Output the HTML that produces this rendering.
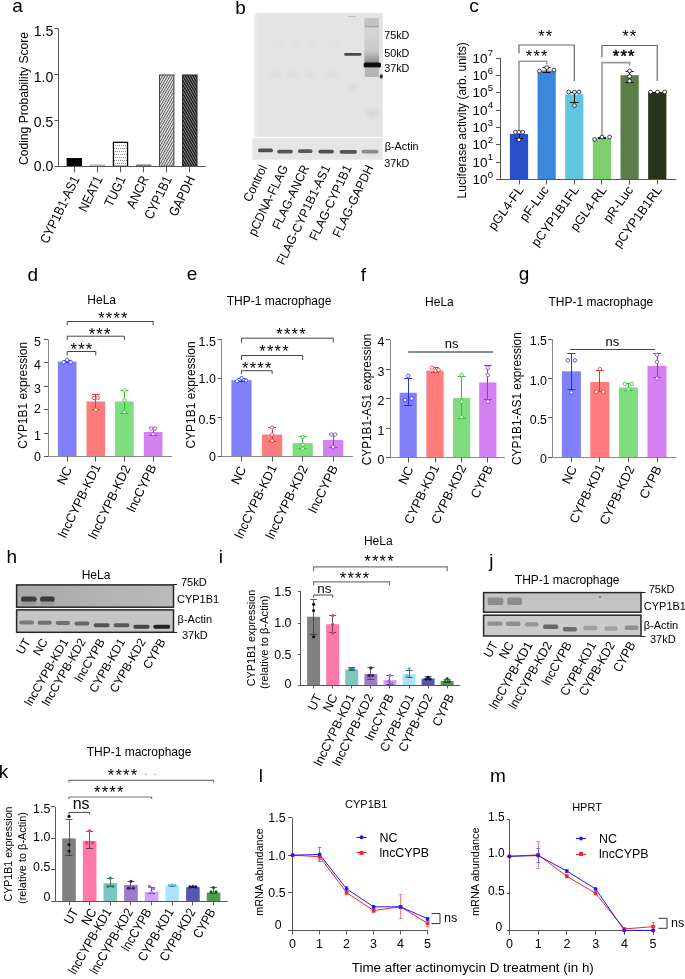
<!DOCTYPE html>
<html><head><meta charset="utf-8"><style>
html,body{margin:0;padding:0;background:#fff;width:685px;height:979px;overflow:hidden}
svg{display:block;font-family:"Liberation Sans", sans-serif;will-change:transform}
</style></head><body>
<svg width="685" height="979" viewBox="0 0 685 979" font-family='"Liberation Sans", sans-serif'>
<defs><pattern id="dots" width="4" height="6" patternUnits="userSpaceOnUse" x="115" y="145"><rect width="4" height="6" fill="#fff"/><rect x="0" y="0" width="1" height="1" fill="#8a8a8a"/><rect x="2" y="0" width="1" height="1" fill="#8a8a8a"/><rect x="1" y="3" width="1" height="1" fill="#8a8a8a"/><rect x="3" y="3" width="1" height="1" fill="#8a8a8a"/></pattern>
<pattern id="hatchL" width="2.2" height="2.2" patternUnits="userSpaceOnUse" patternTransform="rotate(30)"><rect width="2.2" height="2.2" fill="#eee"/><rect width="1" height="2.2" fill="#5a5a5a"/></pattern>
<pattern id="hatchD" width="2.2" height="2.2" patternUnits="userSpaceOnUse" patternTransform="rotate(-30)"><rect width="2.2" height="2.2" fill="#1a1a1a"/><rect width="0.9" height="2.2" fill="#8a8a8a"/></pattern>
<linearGradient id="blotBg" x1="0" x2="1" y1="0" y2="0"><stop offset="0" stop-color="#f2f2f2"/><stop offset="0.035" stop-color="#e5e5e5"/><stop offset="1" stop-color="#e3e3e3"/></linearGradient>
<linearGradient id="blotH" x1="0" x2="1" y1="0" y2="0"><stop offset="0" stop-color="#a9a9a9"/><stop offset="1" stop-color="#bababa"/></linearGradient>
<filter id="bl05" x="-20%" y="-50%" width="140%" height="200%"><feGaussianBlur stdDeviation="0.5"/></filter>
<filter id="bl07" x="-20%" y="-50%" width="140%" height="200%"><feGaussianBlur stdDeviation="0.7"/></filter>
<filter id="bl2" x="-50%" y="-50%" width="200%" height="200%"><feGaussianBlur stdDeviation="2"/></filter>
<linearGradient id="blotB" x1="0" x2="0" y1="0" y2="1"><stop offset="0" stop-color="#ececec"/><stop offset="1" stop-color="#ececec"/></linearGradient>
<linearGradient id="smear" x1="0" x2="0" y1="0" y2="1"><stop offset="0" stop-color="#d6d6d6"/><stop offset="0.65" stop-color="#cacaca"/><stop offset="1" stop-color="#8a8a8a"/></linearGradient></defs>
<text x="12.3" y="11.7" font-size="19">a</text>
<text x="235.2" y="13.8" font-size="19">b</text>
<text x="469.2" y="11.7" font-size="19">c</text>
<text x="27.6" y="280.5" font-size="19">d</text>
<text x="186.8" y="279.5" font-size="19">e</text>
<text x="360.8" y="281" font-size="19">f</text>
<text x="518.7" y="280" font-size="19">g</text>
<text x="6.4" y="562.6" font-size="19">h</text>
<text x="218.8" y="562.6" font-size="19">i</text>
<text x="489.3" y="566.5" font-size="19">j</text>
<text x="-1.2" y="778" font-size="19">k</text>
<text x="258.7" y="781.7" font-size="19">l</text>
<text x="489.9" y="782" font-size="19">m</text>
<rect x="66.6" y="158.04" width="15.4" height="8.26" fill="#000"/>
<rect x="89.7" y="164.46" width="15.4" height="1.84" fill="#b8b8b8"/>
<rect x="113.45" y="142.35" width="14.1" height="23.95" fill="url(#dots)" stroke="#000" stroke-width="1.3"/>
<rect x="135.9" y="164.46" width="15.4" height="1.84" fill="#7a7a7a"/>
<rect x="159.5" y="75" width="14.4" height="91.3" fill="url(#hatchL)" stroke="#444" stroke-width="1"/>
<rect x="182.6" y="75" width="14.4" height="91.3" fill="url(#hatchD)" stroke="#222" stroke-width="1"/>
<line x1="58.5" y1="28.6" x2="58.5" y2="166.3" stroke="#555" stroke-width="1"/>
<line x1="54.5" y1="166.5" x2="58.5" y2="166.5" stroke="#555" stroke-width="1"/>
<text x="53.3" y="171" font-size="14" text-anchor="end">0.0</text>
<line x1="54.5" y1="120.5" x2="58.5" y2="120.5" stroke="#555" stroke-width="1"/>
<text x="53.3" y="127.2" font-size="14" text-anchor="end">0.5</text>
<line x1="54.5" y1="74.5" x2="58.5" y2="74.5" stroke="#555" stroke-width="1"/>
<text x="53.3" y="81.7" font-size="14" text-anchor="end">1.0</text>
<line x1="54.5" y1="28.5" x2="58.5" y2="28.5" stroke="#555" stroke-width="1"/>
<text x="53.3" y="36" font-size="14" text-anchor="end">1.5</text>
<line x1="58.5" y1="166.5" x2="205.6" y2="166.5" stroke="#555" stroke-width="1"/>
<line x1="74.5" y1="166.3" x2="74.5" y2="172.3" stroke="#555" stroke-width="1"/>
<line x1="97.5" y1="166.3" x2="97.5" y2="172.3" stroke="#555" stroke-width="1"/>
<line x1="120.5" y1="166.3" x2="120.5" y2="172.3" stroke="#555" stroke-width="1"/>
<line x1="143.5" y1="166.3" x2="143.5" y2="172.3" stroke="#555" stroke-width="1"/>
<line x1="166.5" y1="166.3" x2="166.5" y2="172.3" stroke="#555" stroke-width="1"/>
<line x1="189.5" y1="166.3" x2="189.5" y2="172.3" stroke="#555" stroke-width="1"/>
<text x="75.8" y="176.8" font-size="13.4" text-anchor="end" transform="rotate(-64 75.8 176.8)" textLength="73.07" lengthAdjust="spacingAndGlyphs" dominant-baseline="central">CYP1B1-AS1</text>
<text x="98.9" y="176.8" font-size="13.4" text-anchor="end" transform="rotate(-64 98.9 176.8)" textLength="37.98" lengthAdjust="spacingAndGlyphs" dominant-baseline="central">NEAT1</text>
<text x="122" y="176.8" font-size="13.4" text-anchor="end" transform="rotate(-64 122 176.8)" textLength="32.16" lengthAdjust="spacingAndGlyphs" dominant-baseline="central">TUG1</text>
<text x="145.1" y="176.8" font-size="13.4" text-anchor="end" transform="rotate(-64 145.1 176.8)" textLength="34.17" lengthAdjust="spacingAndGlyphs" dominant-baseline="central">ANCR</text>
<text x="168.2" y="176.8" font-size="13.4" text-anchor="end" transform="rotate(-64 168.2 176.8)" textLength="46.26" lengthAdjust="spacingAndGlyphs" dominant-baseline="central">CYP1B1</text>
<text x="191.3" y="176.8" font-size="13.4" text-anchor="end" transform="rotate(-64 191.3 176.8)" textLength="42.89" lengthAdjust="spacingAndGlyphs" dominant-baseline="central">GAPDH</text>
<text x="28.4" y="98.5" font-size="13" text-anchor="middle" transform="rotate(-90 28.4 98.5)" textLength="133" lengthAdjust="spacingAndGlyphs">Coding Probability Score</text>
<rect x="253.9" y="13" width="128.9" height="124" fill="url(#blotBg)"/>
<ellipse cx="278" cy="44.8" rx="7" ry="2.5" fill="#000" opacity="0.02" filter="url(#bl2)"/>
<ellipse cx="278" cy="29.5" rx="6" ry="2.5" fill="#000" opacity="0.012" filter="url(#bl2)"/>
<ellipse cx="295.5" cy="44.8" rx="7" ry="2.5" fill="#000" opacity="0.02" filter="url(#bl2)"/>
<ellipse cx="295.5" cy="29.5" rx="6" ry="2.5" fill="#000" opacity="0.012" filter="url(#bl2)"/>
<ellipse cx="312.5" cy="44.8" rx="7" ry="2.5" fill="#000" opacity="0.02" filter="url(#bl2)"/>
<ellipse cx="312.5" cy="29.5" rx="6" ry="2.5" fill="#000" opacity="0.012" filter="url(#bl2)"/>
<ellipse cx="334" cy="44.8" rx="7" ry="2.5" fill="#000" opacity="0.02" filter="url(#bl2)"/>
<ellipse cx="334" cy="29.5" rx="6" ry="2.5" fill="#000" opacity="0.012" filter="url(#bl2)"/>
<ellipse cx="275" cy="75" rx="7" ry="3.5" fill="#000" opacity="0.028" filter="url(#bl2)"/>
<ellipse cx="293.3" cy="75" rx="7" ry="3.5" fill="#000" opacity="0.028" filter="url(#bl2)"/>
<ellipse cx="310.7" cy="75" rx="7" ry="3.5" fill="#000" opacity="0.028" filter="url(#bl2)"/>
<ellipse cx="331" cy="75" rx="7" ry="3.5" fill="#000" opacity="0.028" filter="url(#bl2)"/>
<rect x="344.2" y="53" width="17.2" height="2.8" rx="1.4" fill="#4a4a4a" filter="url(#bl05)"/>
<rect x="348" y="16" width="8" height="1" fill="#bbb" filter="url(#bl05)"/>
<ellipse cx="353" cy="87" rx="6" ry="4" fill="#000" opacity="0.03" filter="url(#bl2)"/>
<g filter="url(#bl05)">
<rect x="364.4" y="18.2" width="14.6" height="7.3" fill="#c3c3c3"/>
<rect x="364.4" y="25.5" width="14.6" height="2.2" fill="#a9a9a9"/>
<rect x="364.4" y="27.7" width="14.6" height="35.3" fill="url(#smear)"/>
<rect x="363.6" y="62.6" width="17.4" height="5.2" fill="#0a0a0a" rx="2"/>
<rect x="364.8" y="67.5" width="14" height="9.5" fill="#b4b4b4"/>
<ellipse cx="381.3" cy="76.4" rx="1.6" ry="2.2" fill="#333"/>
</g>
<ellipse cx="372" cy="113" rx="6" ry="5" fill="#000" opacity="0.04" filter="url(#bl2)"/>
<rect x="252.2" y="138.2" width="130.6" height="21.6" fill="#e5e5e5"/>
<g filter="url(#bl07)">
<rect x="258" y="148.5" width="15" height="3.8" fill="#505050" rx="1.9"/>
<rect x="277.1" y="149.7" width="15.8" height="3.8" fill="#555" rx="1.9"/>
<rect x="298" y="149.3" width="14.5" height="3.8" fill="#5a5a5a" rx="1.9"/>
<rect x="318.4" y="149.7" width="15.6" height="3.8" fill="#505050" rx="1.9"/>
<rect x="339.6" y="149.9" width="17.4" height="3.8" fill="#555" rx="1.9"/>
<rect x="361.6" y="149.7" width="16.9" height="3.8" fill="#8a8a8a" rx="1.9"/>
</g>
<text x="384.2" y="38.6" font-size="10.8">75kD</text>
<text x="384.2" y="56.6" font-size="10.8">50kD</text>
<text x="384.2" y="71.9" font-size="10.8">37kD</text>
<text x="384.8" y="149.8" font-size="10.8">β-Actin</text>
<text x="384.2" y="166.6" font-size="10.8">37kD</text>
<text x="263.7" y="165.8" font-size="12.6" text-anchor="end" transform="rotate(-64.5 263.7 165.8)" textLength="38.99" lengthAdjust="spacingAndGlyphs" dominant-baseline="central">Control</text>
<text x="284.8" y="165.8" font-size="12.6" text-anchor="end" transform="rotate(-64.5 284.8 165.8)" textLength="76.62" lengthAdjust="spacingAndGlyphs" dominant-baseline="central">pCDNA-FLAG</text>
<text x="305.9" y="165.8" font-size="12.6" text-anchor="end" transform="rotate(-64.5 305.9 165.8)" textLength="69.9" lengthAdjust="spacingAndGlyphs" dominant-baseline="central">FLAG-ANCR</text>
<text x="327.1" y="165.8" font-size="12.6" text-anchor="end" transform="rotate(-64.5 327.1 165.8)" textLength="108.91" lengthAdjust="spacingAndGlyphs" dominant-baseline="central">FLAG-CYP1B1-AS1</text>
<text x="348.3" y="165.8" font-size="12.6" text-anchor="end" transform="rotate(-64.5 348.3 165.8)" textLength="82.01" lengthAdjust="spacingAndGlyphs" dominant-baseline="central">FLAG-CYP1B1</text>
<text x="370.1" y="165.8" font-size="12.6" text-anchor="end" transform="rotate(-64.5 370.1 165.8)" textLength="78.64" lengthAdjust="spacingAndGlyphs" dominant-baseline="central">FLAG-GAPDH</text>
<rect x="509.9" y="134" width="18.2" height="45.4" fill="#2a4fca"/>
<rect x="537.55" y="70.5" width="18.2" height="108.9" fill="#3b87da"/>
<rect x="565.2" y="94.4" width="18.2" height="85" fill="#60c5e0"/>
<rect x="592.85" y="138" width="18.2" height="41.4" fill="#7ecf6c"/>
<rect x="620.5" y="75.2" width="18.2" height="104.2" fill="#5b7d48"/>
<rect x="648.15" y="92.2" width="18.2" height="87.2" fill="#283419"/>
<polyline points="519,53.5 519,45 574.3,45 574.3,81" fill="none" stroke="#666" stroke-width="1.2"/>
<polyline points="519,131.2 519,61.2 546.65,61.2 546.65,64.2" fill="none" stroke="#999" stroke-width="1.6"/>
<polyline points="601.95,57 601.95,45.5 657.25,45.5 657.25,81" fill="none" stroke="#666" stroke-width="1.2"/>
<polyline points="601.95,136.1 601.95,62.6 629.6,62.6 629.6,65.6" fill="none" stroke="#999" stroke-width="1.6"/>
<text x="538.18" y="41.58" font-size="16.5" letter-spacing="1.2">**</text>
<text x="525.77" y="61.58" font-size="16.5" letter-spacing="1.2">***</text>
<text x="622.18" y="41.58" font-size="16.5" letter-spacing="1.2">**</text>
<text x="612.77" y="62.18" font-size="16.5" letter-spacing="1.2" stroke="#000" stroke-width="0.5">***</text>
<line x1="519.5" y1="132.2" x2="519.5" y2="138" stroke="#111" stroke-width="1"/>
<line x1="515" y1="132.5" x2="523" y2="132.5" stroke="#111" stroke-width="1"/>
<line x1="515" y1="138.5" x2="523" y2="138.5" stroke="#111" stroke-width="1"/>
<line x1="546.5" y1="67.8" x2="546.5" y2="72.5" stroke="#111" stroke-width="1"/>
<line x1="542.65" y1="67.5" x2="550.65" y2="67.5" stroke="#111" stroke-width="1"/>
<line x1="542.65" y1="72.5" x2="550.65" y2="72.5" stroke="#111" stroke-width="1"/>
<line x1="574.5" y1="92" x2="574.5" y2="102.6" stroke="#111" stroke-width="1"/>
<line x1="569.8" y1="92.5" x2="578.8" y2="92.5" stroke="#111" stroke-width="1"/>
<line x1="569.8" y1="102.5" x2="578.8" y2="102.5" stroke="#111" stroke-width="1"/>
<line x1="601.5" y1="137" x2="601.5" y2="138.6" stroke="#111" stroke-width="1"/>
<line x1="597.95" y1="137.5" x2="605.95" y2="137.5" stroke="#111" stroke-width="1"/>
<line x1="597.95" y1="138.5" x2="605.95" y2="138.5" stroke="#111" stroke-width="1"/>
<line x1="629.5" y1="71" x2="629.5" y2="82" stroke="#111" stroke-width="1"/>
<line x1="625.6" y1="71.5" x2="633.6" y2="71.5" stroke="#111" stroke-width="1"/>
<line x1="625.6" y1="82.5" x2="633.6" y2="82.5" stroke="#111" stroke-width="1"/>
<line x1="657.5" y1="92" x2="657.5" y2="92.5" stroke="#111" stroke-width="1"/>
<line x1="653.25" y1="92.5" x2="661.25" y2="92.5" stroke="#111" stroke-width="1"/>
<line x1="653.25" y1="92.5" x2="661.25" y2="92.5" stroke="#111" stroke-width="1"/>
<circle cx="515.4" cy="132.2" r="1.9" fill="#fff" stroke="#111" stroke-width="0.8"/>
<circle cx="519" cy="132.2" r="1.9" fill="#fff" stroke="#111" stroke-width="0.8"/>
<circle cx="522.8" cy="132.2" r="1.9" fill="#fff" stroke="#111" stroke-width="0.8"/>
<circle cx="519" cy="139.8" r="1.9" fill="#fff" stroke="#111" stroke-width="0.8"/>
<circle cx="539.4" cy="71" r="1.9" fill="#fff" stroke="#111" stroke-width="0.8"/>
<circle cx="546.8" cy="67.6" r="1.9" fill="#fff" stroke="#111" stroke-width="0.8"/>
<circle cx="554" cy="70" r="1.9" fill="#fff" stroke="#111" stroke-width="0.8"/>
<circle cx="568.7" cy="92" r="1.9" fill="#fff" stroke="#111" stroke-width="0.8"/>
<circle cx="574.4" cy="92" r="1.9" fill="#fff" stroke="#111" stroke-width="0.8"/>
<circle cx="579" cy="92" r="1.9" fill="#fff" stroke="#111" stroke-width="0.8"/>
<circle cx="574.4" cy="105.6" r="1.9" fill="#fff" stroke="#111" stroke-width="0.8"/>
<circle cx="594.6" cy="139.4" r="1.9" fill="#fff" stroke="#111" stroke-width="0.8"/>
<circle cx="602" cy="137" r="1.9" fill="#fff" stroke="#111" stroke-width="0.8"/>
<circle cx="609.6" cy="137" r="1.9" fill="#fff" stroke="#111" stroke-width="0.8"/>
<circle cx="629.6" cy="71" r="1.9" fill="#fff" stroke="#111" stroke-width="0.8"/>
<circle cx="629.6" cy="76.4" r="1.9" fill="#fff" stroke="#111" stroke-width="0.8"/>
<circle cx="629.6" cy="81" r="1.9" fill="#fff" stroke="#111" stroke-width="0.8"/>
<circle cx="650.6" cy="92" r="1.9" fill="#fff" stroke="#111" stroke-width="0.8"/>
<circle cx="657.4" cy="92" r="1.9" fill="#fff" stroke="#111" stroke-width="0.8"/>
<circle cx="664.6" cy="92" r="1.9" fill="#fff" stroke="#111" stroke-width="0.8"/>
<line x1="500.5" y1="58" x2="500.5" y2="179.4" stroke="#555" stroke-width="1"/>
<line x1="496" y1="179.5" x2="500" y2="179.5" stroke="#555" stroke-width="1"/>
<text x="487.5" y="184" font-size="13.5" text-anchor="end">10</text>
<text x="487.8" y="177.8" font-size="9.5">0</text>
<line x1="496" y1="162.5" x2="500" y2="162.5" stroke="#555" stroke-width="1"/>
<text x="487.5" y="166.66" font-size="13.5" text-anchor="end">10</text>
<text x="487.8" y="160.46" font-size="9.5">1</text>
<line x1="496" y1="144.5" x2="500" y2="144.5" stroke="#555" stroke-width="1"/>
<text x="487.5" y="149.32" font-size="13.5" text-anchor="end">10</text>
<text x="487.8" y="143.12" font-size="9.5">2</text>
<line x1="496" y1="127.5" x2="500" y2="127.5" stroke="#555" stroke-width="1"/>
<text x="487.5" y="131.98" font-size="13.5" text-anchor="end">10</text>
<text x="487.8" y="125.78" font-size="9.5">3</text>
<line x1="496" y1="110.5" x2="500" y2="110.5" stroke="#555" stroke-width="1"/>
<text x="487.5" y="114.64" font-size="13.5" text-anchor="end">10</text>
<text x="487.8" y="108.44" font-size="9.5">4</text>
<line x1="496" y1="92.5" x2="500" y2="92.5" stroke="#555" stroke-width="1"/>
<text x="487.5" y="97.3" font-size="13.5" text-anchor="end">10</text>
<text x="487.8" y="91.1" font-size="9.5">5</text>
<line x1="496" y1="75.5" x2="500" y2="75.5" stroke="#555" stroke-width="1"/>
<text x="487.5" y="79.96" font-size="13.5" text-anchor="end">10</text>
<text x="487.8" y="73.76" font-size="9.5">6</text>
<line x1="496" y1="58.5" x2="500" y2="58.5" stroke="#555" stroke-width="1"/>
<text x="487.5" y="62.62" font-size="13.5" text-anchor="end">10</text>
<text x="487.8" y="56.42" font-size="9.5">7</text>
<line x1="500" y1="179.5" x2="676.4" y2="179.5" stroke="#555" stroke-width="1"/>
<line x1="519.5" y1="179.4" x2="519.5" y2="184.4" stroke="#555" stroke-width="1"/>
<line x1="546.5" y1="179.4" x2="546.5" y2="184.4" stroke="#555" stroke-width="1"/>
<line x1="574.5" y1="179.4" x2="574.5" y2="184.4" stroke="#555" stroke-width="1"/>
<line x1="601.5" y1="179.4" x2="601.5" y2="184.4" stroke="#555" stroke-width="1"/>
<line x1="629.5" y1="179.4" x2="629.5" y2="184.4" stroke="#555" stroke-width="1"/>
<line x1="657.5" y1="179.4" x2="657.5" y2="184.4" stroke="#555" stroke-width="1"/>
<text x="520.5" y="187.4" font-size="12.8" text-anchor="end" transform="rotate(-54 520.5 187.4)" dominant-baseline="central">pGL4-FL</text>
<text x="545.65" y="187.4" font-size="12.8" text-anchor="end" transform="rotate(-54 545.65 187.4)" dominant-baseline="central">pF-Luc</text>
<text x="575.8" y="187.4" font-size="12.8" text-anchor="end" transform="rotate(-54 575.8 187.4)" dominant-baseline="central">pCYP1B1FL</text>
<text x="603.45" y="187.4" font-size="12.8" text-anchor="end" transform="rotate(-54 603.45 187.4)" dominant-baseline="central">pGL4-RL</text>
<text x="630.1" y="187.4" font-size="12.8" text-anchor="end" transform="rotate(-54 630.1 187.4)" dominant-baseline="central">pR-Luc</text>
<text x="658.75" y="187.4" font-size="12.8" text-anchor="end" transform="rotate(-54 658.75 187.4)" dominant-baseline="central">pCYP1B1RL</text>
<text x="466.5" y="120.3" font-size="12.5" text-anchor="middle" transform="rotate(-90 466.5 120.3)" textLength="156.3" lengthAdjust="spacingAndGlyphs">Luciferase activity (arb. units)</text>
<rect x="57.9" y="361.63" width="18.6" height="94.97" fill="#8080f9"/>
<rect x="86.5" y="401.49" width="18.6" height="55.11" fill="#fe7c7c"/>
<rect x="115.1" y="401.49" width="18.6" height="55.11" fill="#7fdd80"/>
<rect x="143.8" y="431.98" width="18.6" height="24.62" fill="#d47ff2"/>
<line x1="67.5" y1="360.46" x2="67.5" y2="362.8" stroke="#2f2fe8" stroke-width="1"/>
<line x1="63.2" y1="360.5" x2="71.2" y2="360.5" stroke="#2f2fe8" stroke-width="1"/>
<line x1="63.2" y1="362.5" x2="71.2" y2="362.5" stroke="#2f2fe8" stroke-width="1"/>
<line x1="95.5" y1="394.46" x2="95.5" y2="409.7" stroke="#ec3030" stroke-width="1"/>
<line x1="91.8" y1="394.5" x2="99.8" y2="394.5" stroke="#ec3030" stroke-width="1"/>
<line x1="91.8" y1="409.5" x2="99.8" y2="409.5" stroke="#ec3030" stroke-width="1"/>
<line x1="124.5" y1="390.94" x2="124.5" y2="413.22" stroke="#2fbf2f" stroke-width="1"/>
<line x1="120.4" y1="390.5" x2="128.4" y2="390.5" stroke="#2fbf2f" stroke-width="1"/>
<line x1="120.4" y1="413.5" x2="128.4" y2="413.5" stroke="#2fbf2f" stroke-width="1"/>
<line x1="153.5" y1="427.99" x2="153.5" y2="435.03" stroke="#a030d8" stroke-width="1"/>
<line x1="149.1" y1="427.5" x2="157.1" y2="427.5" stroke="#a030d8" stroke-width="1"/>
<line x1="149.1" y1="435.5" x2="157.1" y2="435.5" stroke="#a030d8" stroke-width="1"/>
<circle cx="63.7" cy="362.33" r="1.75" fill="#fff" stroke="#2f2fe8" stroke-width="0.8"/>
<circle cx="67.2" cy="359.99" r="1.75" fill="#fff" stroke="#2f2fe8" stroke-width="0.8"/>
<circle cx="70.7" cy="362.33" r="1.75" fill="#fff" stroke="#2f2fe8" stroke-width="0.8"/>
<circle cx="94" cy="397.98" r="1.75" fill="#fff" stroke="#ec3030" stroke-width="0.8"/>
<circle cx="97.6" cy="397.98" r="1.75" fill="#fff" stroke="#ec3030" stroke-width="0.8"/>
<circle cx="95.8" cy="409.7" r="1.75" fill="#fff" stroke="#ec3030" stroke-width="0.8"/>
<circle cx="124.4" cy="390.47" r="1.75" fill="#fff" stroke="#2fbf2f" stroke-width="0.8"/>
<circle cx="124.4" cy="400.32" r="1.75" fill="#fff" stroke="#2fbf2f" stroke-width="0.8"/>
<circle cx="124.4" cy="412.05" r="1.75" fill="#fff" stroke="#2fbf2f" stroke-width="0.8"/>
<circle cx="151.3" cy="428.46" r="1.75" fill="#fff" stroke="#a030d8" stroke-width="0.8"/>
<circle cx="154.9" cy="428.46" r="1.75" fill="#fff" stroke="#a030d8" stroke-width="0.8"/>
<circle cx="153.1" cy="434.32" r="1.75" fill="#fff" stroke="#a030d8" stroke-width="0.8"/>
<line x1="48.5" y1="339.35" x2="48.5" y2="456.6" stroke="#8a8a8a" stroke-width="1"/>
<line x1="44" y1="456.5" x2="48" y2="456.5" stroke="#555" stroke-width="1"/>
<text x="40.9" y="461.45" font-size="12.4" text-anchor="end">0</text>
<line x1="44" y1="433.5" x2="48" y2="433.5" stroke="#555" stroke-width="1"/>
<text x="40.9" y="439.9" font-size="12.4" text-anchor="end">1</text>
<line x1="44" y1="409.5" x2="48" y2="409.5" stroke="#555" stroke-width="1"/>
<text x="40.9" y="413.35" font-size="12.4" text-anchor="end">2</text>
<line x1="44" y1="386.5" x2="48" y2="386.5" stroke="#555" stroke-width="1"/>
<text x="40.9" y="392.9" font-size="12.4" text-anchor="end">3</text>
<line x1="44" y1="362.5" x2="48" y2="362.5" stroke="#555" stroke-width="1"/>
<text x="40.9" y="368.55" font-size="12.4" text-anchor="end">4</text>
<line x1="44" y1="339.5" x2="48" y2="339.5" stroke="#555" stroke-width="1"/>
<text x="40.9" y="346.1" font-size="12.4" text-anchor="end">5</text>
<line x1="48" y1="456.5" x2="172.2" y2="456.5" stroke="#8a8a8a" stroke-width="1"/>
<line x1="67.5" y1="456.6" x2="67.5" y2="461.6" stroke="#555" stroke-width="1"/>
<line x1="95.5" y1="456.6" x2="95.5" y2="461.6" stroke="#555" stroke-width="1"/>
<line x1="124.5" y1="456.6" x2="124.5" y2="461.6" stroke="#555" stroke-width="1"/>
<line x1="153.5" y1="456.6" x2="153.5" y2="461.6" stroke="#555" stroke-width="1"/>
<text x="101.7" y="304.3" font-size="12" text-anchor="middle">HeLa</text>
<polyline points="67.2,325 67.2,321.5 153.1,321.5 153.1,325" fill="none" stroke="#444" stroke-width="1"/>
<polyline points="67.2,340 67.2,336.2 124.4,336.2 124.4,340" fill="none" stroke="#444" stroke-width="1"/>
<polyline points="67.2,355.3 67.2,351.5 95.8,351.5 95.8,355.3" fill="none" stroke="#444" stroke-width="1"/>
<text x="98.26" y="323.58" font-size="16.5" letter-spacing="1.2">****</text>
<text x="88.67" y="339.78" font-size="16.5" letter-spacing="1.2">***</text>
<text x="70.57" y="355.18" font-size="16.5" letter-spacing="1.2">***</text>
<text x="68.2" y="467.1" font-size="12.8" text-anchor="end" transform="rotate(-64 68.2 467.1)" dominant-baseline="central">NC</text>
<text x="96.8" y="464.6" font-size="12.8" text-anchor="end" transform="rotate(-64 96.8 464.6)" dominant-baseline="central">lncCYPB-KD1</text>
<text x="126.9" y="465.9" font-size="12.8" text-anchor="end" transform="rotate(-64 126.9 465.9)" dominant-baseline="central">lncCYPB-KD2</text>
<text x="152.6" y="465.1" font-size="12.8" text-anchor="end" transform="rotate(-64 152.6 465.1)" dominant-baseline="central">lncCYPB</text>
<text x="27.2" y="395.3" font-size="12.8" text-anchor="middle" transform="rotate(-90 27.2 395.3)" textLength="106.8" lengthAdjust="spacingAndGlyphs">CYP1B1 expression</text>
<rect x="231.4" y="380.16" width="20.2" height="76.34" fill="#8080f9"/>
<rect x="262" y="434.58" width="20.2" height="21.92" fill="#fe7c7c"/>
<rect x="292.6" y="443.19" width="20.2" height="13.31" fill="#7fdd80"/>
<rect x="323.1" y="440.06" width="20.2" height="16.44" fill="#d47ff2"/>
<line x1="241.5" y1="378.98" x2="241.5" y2="381.33" stroke="#2f2fe8" stroke-width="1"/>
<line x1="237.5" y1="378.5" x2="245.5" y2="378.5" stroke="#2f2fe8" stroke-width="1"/>
<line x1="237.5" y1="381.5" x2="245.5" y2="381.5" stroke="#2f2fe8" stroke-width="1"/>
<line x1="272.5" y1="427.53" x2="272.5" y2="441.62" stroke="#ec3030" stroke-width="1"/>
<line x1="268.1" y1="427.5" x2="276.1" y2="427.5" stroke="#ec3030" stroke-width="1"/>
<line x1="268.1" y1="441.5" x2="276.1" y2="441.5" stroke="#ec3030" stroke-width="1"/>
<line x1="302.5" y1="436.93" x2="302.5" y2="448.67" stroke="#2fbf2f" stroke-width="1"/>
<line x1="298.7" y1="436.5" x2="306.7" y2="436.5" stroke="#2fbf2f" stroke-width="1"/>
<line x1="298.7" y1="448.5" x2="306.7" y2="448.5" stroke="#2fbf2f" stroke-width="1"/>
<line x1="333.5" y1="433.79" x2="333.5" y2="447.1" stroke="#a030d8" stroke-width="1"/>
<line x1="329.2" y1="433.5" x2="337.2" y2="433.5" stroke="#a030d8" stroke-width="1"/>
<line x1="329.2" y1="447.5" x2="337.2" y2="447.5" stroke="#a030d8" stroke-width="1"/>
<circle cx="237" cy="381.33" r="1.75" fill="#fff" stroke="#2f2fe8" stroke-width="0.8"/>
<circle cx="241.5" cy="378.2" r="1.75" fill="#fff" stroke="#2f2fe8" stroke-width="0.8"/>
<circle cx="246" cy="380.55" r="1.75" fill="#fff" stroke="#2f2fe8" stroke-width="0.8"/>
<circle cx="272.1" cy="427.53" r="1.75" fill="#fff" stroke="#ec3030" stroke-width="0.8"/>
<circle cx="272.1" cy="434.58" r="1.75" fill="#fff" stroke="#ec3030" stroke-width="0.8"/>
<circle cx="272.1" cy="440.84" r="1.75" fill="#fff" stroke="#ec3030" stroke-width="0.8"/>
<circle cx="302.7" cy="436.93" r="1.75" fill="#fff" stroke="#2fbf2f" stroke-width="0.8"/>
<circle cx="302.7" cy="444.75" r="1.75" fill="#fff" stroke="#2fbf2f" stroke-width="0.8"/>
<circle cx="302.7" cy="448.67" r="1.75" fill="#fff" stroke="#2fbf2f" stroke-width="0.8"/>
<circle cx="331.4" cy="434.58" r="1.75" fill="#fff" stroke="#a030d8" stroke-width="0.8"/>
<circle cx="335" cy="434.58" r="1.75" fill="#fff" stroke="#a030d8" stroke-width="0.8"/>
<circle cx="333.2" cy="447.1" r="1.75" fill="#fff" stroke="#a030d8" stroke-width="0.8"/>
<line x1="221.5" y1="339.05" x2="221.5" y2="456.5" stroke="#8a8a8a" stroke-width="1"/>
<line x1="217.7" y1="456.5" x2="221.7" y2="456.5" stroke="#555" stroke-width="1"/>
<text x="215.8" y="460.75" font-size="12.4" text-anchor="end">0</text>
<line x1="217.7" y1="417.5" x2="221.7" y2="417.5" stroke="#555" stroke-width="1"/>
<text x="215.8" y="423.5" font-size="12.4" text-anchor="end">0.5</text>
<line x1="217.7" y1="378.5" x2="221.7" y2="378.5" stroke="#555" stroke-width="1"/>
<text x="215.8" y="382.65" font-size="12.4" text-anchor="end">1.0</text>
<line x1="217.7" y1="339.5" x2="221.7" y2="339.5" stroke="#555" stroke-width="1"/>
<text x="215.8" y="345.6" font-size="12.4" text-anchor="end">1.5</text>
<line x1="221.7" y1="456.5" x2="353" y2="456.5" stroke="#8a8a8a" stroke-width="1"/>
<line x1="241.5" y1="456.5" x2="241.5" y2="461.5" stroke="#555" stroke-width="1"/>
<line x1="272.5" y1="456.5" x2="272.5" y2="461.5" stroke="#555" stroke-width="1"/>
<line x1="302.5" y1="456.5" x2="302.5" y2="461.5" stroke="#555" stroke-width="1"/>
<line x1="333.5" y1="456.5" x2="333.5" y2="461.5" stroke="#555" stroke-width="1"/>
<text x="279" y="305.3" font-size="12" text-anchor="middle">THP-1 macrophage</text>
<polyline points="241.5,342.5 241.5,338.2 333.2,338.2 333.2,342.5" fill="none" stroke="#444" stroke-width="1"/>
<polyline points="241.5,360 241.5,355.5 302.7,355.5 302.7,360" fill="none" stroke="#444" stroke-width="1"/>
<polyline points="241.5,373.9 241.5,370.7 272.1,370.7 272.1,373.9" fill="none" stroke="#444" stroke-width="1"/>
<text x="276.36" y="340.28" font-size="16.5" letter-spacing="1.2">****</text>
<text x="259.36" y="356.78" font-size="16.5" letter-spacing="1.2">****</text>
<text x="242.06" y="374.08" font-size="16.5" letter-spacing="1.2">****</text>
<text x="242.5" y="467" font-size="12.8" text-anchor="end" transform="rotate(-64 242.5 467)" dominant-baseline="central">NC</text>
<text x="273.1" y="465.2" font-size="12.8" text-anchor="end" transform="rotate(-64 273.1 465.2)" dominant-baseline="central">lncCYPB-KD1</text>
<text x="304.2" y="465.9" font-size="12.8" text-anchor="end" transform="rotate(-64 304.2 465.9)" dominant-baseline="central">lncCYPB-KD2</text>
<text x="334.2" y="465.9" font-size="12.8" text-anchor="end" transform="rotate(-64 334.2 465.9)" dominant-baseline="central">lncCYPB</text>
<text x="195.1" y="395" font-size="12.8" text-anchor="middle" transform="rotate(-90 195.1 395)" textLength="107.2" lengthAdjust="spacingAndGlyphs">CYP1B1 expression</text>
<rect x="399.6" y="392.72" width="17.2" height="64.68" fill="#8080f9"/>
<rect x="426.4" y="370.67" width="17.2" height="86.73" fill="#fe7c7c"/>
<rect x="453" y="398.01" width="17.2" height="59.39" fill="#7fdd80"/>
<rect x="479.2" y="382.43" width="17.2" height="74.97" fill="#d47ff2"/>
<line x1="408.5" y1="378.02" x2="408.5" y2="405.36" stroke="#2f2fe8" stroke-width="1"/>
<line x1="404.2" y1="378.5" x2="412.2" y2="378.5" stroke="#2f2fe8" stroke-width="1"/>
<line x1="404.2" y1="405.5" x2="412.2" y2="405.5" stroke="#2f2fe8" stroke-width="1"/>
<line x1="435.5" y1="367.73" x2="435.5" y2="372.14" stroke="#ec3030" stroke-width="1"/>
<line x1="431" y1="367.5" x2="439" y2="367.5" stroke="#ec3030" stroke-width="1"/>
<line x1="431" y1="372.5" x2="439" y2="372.5" stroke="#ec3030" stroke-width="1"/>
<line x1="461.5" y1="376.84" x2="461.5" y2="418.3" stroke="#2fbf2f" stroke-width="1"/>
<line x1="457.6" y1="376.5" x2="465.6" y2="376.5" stroke="#2fbf2f" stroke-width="1"/>
<line x1="457.6" y1="418.5" x2="465.6" y2="418.5" stroke="#2fbf2f" stroke-width="1"/>
<line x1="487.5" y1="365.08" x2="487.5" y2="399.48" stroke="#a030d8" stroke-width="1"/>
<line x1="483.8" y1="365.5" x2="491.8" y2="365.5" stroke="#a030d8" stroke-width="1"/>
<line x1="483.8" y1="399.5" x2="491.8" y2="399.5" stroke="#a030d8" stroke-width="1"/>
<circle cx="408.2" cy="375.96" r="1.75" fill="#fff" stroke="#2f2fe8" stroke-width="0.8"/>
<circle cx="405.2" cy="400.07" r="1.75" fill="#fff" stroke="#2f2fe8" stroke-width="0.8"/>
<circle cx="411.7" cy="398.6" r="1.75" fill="#fff" stroke="#2f2fe8" stroke-width="0.8"/>
<circle cx="432" cy="367.73" r="1.75" fill="#fff" stroke="#ec3030" stroke-width="0.8"/>
<circle cx="435.5" cy="370.67" r="1.75" fill="#fff" stroke="#ec3030" stroke-width="0.8"/>
<circle cx="438.5" cy="370.08" r="1.75" fill="#fff" stroke="#ec3030" stroke-width="0.8"/>
<circle cx="461.6" cy="375.08" r="1.75" fill="#fff" stroke="#2fbf2f" stroke-width="0.8"/>
<circle cx="461.6" cy="401.54" r="1.75" fill="#fff" stroke="#2fbf2f" stroke-width="0.8"/>
<circle cx="461.6" cy="417.12" r="1.75" fill="#fff" stroke="#2fbf2f" stroke-width="0.8"/>
<circle cx="487.8" cy="367.73" r="1.75" fill="#fff" stroke="#a030d8" stroke-width="0.8"/>
<circle cx="487.8" cy="375.08" r="1.75" fill="#fff" stroke="#a030d8" stroke-width="0.8"/>
<circle cx="487.8" cy="401.54" r="1.75" fill="#fff" stroke="#a030d8" stroke-width="0.8"/>
<line x1="390.5" y1="339.8" x2="390.5" y2="457.4" stroke="#8a8a8a" stroke-width="1"/>
<line x1="386" y1="457.5" x2="390" y2="457.5" stroke="#555" stroke-width="1"/>
<text x="384.4" y="463.9" font-size="12.4" text-anchor="end">0</text>
<line x1="386" y1="428.5" x2="390" y2="428.5" stroke="#555" stroke-width="1"/>
<text x="384.4" y="434.5" font-size="12.4" text-anchor="end">1</text>
<line x1="386" y1="398.5" x2="390" y2="398.5" stroke="#555" stroke-width="1"/>
<text x="384.4" y="405.1" font-size="12.4" text-anchor="end">2</text>
<line x1="386" y1="369.5" x2="390" y2="369.5" stroke="#555" stroke-width="1"/>
<text x="384.4" y="375.7" font-size="12.4" text-anchor="end">3</text>
<line x1="386" y1="339.5" x2="390" y2="339.5" stroke="#555" stroke-width="1"/>
<text x="384.4" y="346.3" font-size="12.4" text-anchor="end">4</text>
<line x1="390" y1="457.5" x2="505" y2="457.5" stroke="#8a8a8a" stroke-width="1"/>
<line x1="408.5" y1="457.4" x2="408.5" y2="462.4" stroke="#555" stroke-width="1"/>
<line x1="435.5" y1="457.4" x2="435.5" y2="462.4" stroke="#555" stroke-width="1"/>
<line x1="461.5" y1="457.4" x2="461.5" y2="462.4" stroke="#555" stroke-width="1"/>
<line x1="487.5" y1="457.4" x2="487.5" y2="462.4" stroke="#555" stroke-width="1"/>
<text x="439.4" y="305.6" font-size="12" text-anchor="middle">HeLa</text>
<line x1="408.2" y1="352" x2="493" y2="352" stroke="#666" stroke-width="1.5"/>
<text x="451.7" y="347.8" font-size="13" text-anchor="middle">ns</text>
<text x="409.7" y="466.9" font-size="12.8" text-anchor="end" transform="rotate(-64 409.7 466.9)" dominant-baseline="central">NC</text>
<text x="435.5" y="465.4" font-size="12.8" text-anchor="end" transform="rotate(-64 435.5 465.4)" dominant-baseline="central">CYPB-KD1</text>
<text x="462.6" y="465.4" font-size="12.8" text-anchor="end" transform="rotate(-64 462.6 465.4)" dominant-baseline="central">CYPB-KD2</text>
<text x="489.3" y="465.9" font-size="12.8" text-anchor="end" transform="rotate(-64 489.3 465.9)" dominant-baseline="central">CYPB</text>
<text x="371.2" y="399.4" font-size="12.8" text-anchor="middle" transform="rotate(-90 371.2 399.4)" textLength="131.6" lengthAdjust="spacingAndGlyphs">CYP1B1-AS1 expression</text>
<rect x="561.9" y="371.33" width="19" height="85.67" fill="#8080f9"/>
<rect x="590.3" y="381.94" width="19" height="75.06" fill="#fe7c7c"/>
<rect x="618.9" y="387.44" width="19" height="69.56" fill="#7fdd80"/>
<rect x="647.5" y="365.82" width="19" height="91.18" fill="#d47ff2"/>
<line x1="571.5" y1="353.25" x2="571.5" y2="389.01" stroke="#2f2fe8" stroke-width="1"/>
<line x1="567.4" y1="353.5" x2="575.4" y2="353.5" stroke="#2f2fe8" stroke-width="1"/>
<line x1="567.4" y1="389.5" x2="575.4" y2="389.5" stroke="#2f2fe8" stroke-width="1"/>
<line x1="599.5" y1="370.54" x2="599.5" y2="391.76" stroke="#ec3030" stroke-width="1"/>
<line x1="595.8" y1="370.5" x2="603.8" y2="370.5" stroke="#ec3030" stroke-width="1"/>
<line x1="595.8" y1="391.5" x2="603.8" y2="391.5" stroke="#ec3030" stroke-width="1"/>
<line x1="628.5" y1="383.9" x2="628.5" y2="390.19" stroke="#2fbf2f" stroke-width="1"/>
<line x1="624.4" y1="383.5" x2="632.4" y2="383.5" stroke="#2fbf2f" stroke-width="1"/>
<line x1="624.4" y1="390.5" x2="632.4" y2="390.5" stroke="#2fbf2f" stroke-width="1"/>
<line x1="657.5" y1="353.25" x2="657.5" y2="377.61" stroke="#a030d8" stroke-width="1"/>
<line x1="653" y1="353.5" x2="661" y2="353.5" stroke="#a030d8" stroke-width="1"/>
<line x1="653" y1="377.5" x2="661" y2="377.5" stroke="#a030d8" stroke-width="1"/>
<circle cx="567.9" cy="360.32" r="1.75" fill="#fff" stroke="#2f2fe8" stroke-width="0.8"/>
<circle cx="574.9" cy="360.32" r="1.75" fill="#fff" stroke="#2f2fe8" stroke-width="0.8"/>
<circle cx="571.4" cy="392.55" r="1.75" fill="#fff" stroke="#2f2fe8" stroke-width="0.8"/>
<circle cx="599.8" cy="368.97" r="1.75" fill="#fff" stroke="#ec3030" stroke-width="0.8"/>
<circle cx="596.3" cy="391.76" r="1.75" fill="#fff" stroke="#ec3030" stroke-width="0.8"/>
<circle cx="603.3" cy="391.76" r="1.75" fill="#fff" stroke="#ec3030" stroke-width="0.8"/>
<circle cx="624.9" cy="383.9" r="1.75" fill="#fff" stroke="#2fbf2f" stroke-width="0.8"/>
<circle cx="631.9" cy="383.9" r="1.75" fill="#fff" stroke="#2fbf2f" stroke-width="0.8"/>
<circle cx="628.4" cy="389.4" r="1.75" fill="#fff" stroke="#2fbf2f" stroke-width="0.8"/>
<circle cx="657" cy="354.82" r="1.75" fill="#fff" stroke="#a030d8" stroke-width="0.8"/>
<circle cx="657" cy="361.89" r="1.75" fill="#fff" stroke="#a030d8" stroke-width="0.8"/>
<circle cx="657" cy="378.4" r="1.75" fill="#fff" stroke="#a030d8" stroke-width="0.8"/>
<line x1="552.5" y1="339.1" x2="552.5" y2="457" stroke="#8a8a8a" stroke-width="1"/>
<line x1="548" y1="457.5" x2="552" y2="457.5" stroke="#555" stroke-width="1"/>
<text x="547" y="463.3" font-size="12.4" text-anchor="end">0</text>
<line x1="548" y1="417.5" x2="552" y2="417.5" stroke="#555" stroke-width="1"/>
<text x="547" y="424" font-size="12.4" text-anchor="end">0.5</text>
<line x1="548" y1="378.5" x2="552" y2="378.5" stroke="#555" stroke-width="1"/>
<text x="547" y="384.7" font-size="12.4" text-anchor="end">1.0</text>
<line x1="548" y1="339.5" x2="552" y2="339.5" stroke="#555" stroke-width="1"/>
<text x="547" y="345.4" font-size="12.4" text-anchor="end">1.5</text>
<line x1="552" y1="457.5" x2="676.5" y2="457.5" stroke="#8a8a8a" stroke-width="1"/>
<line x1="571.5" y1="457" x2="571.5" y2="462" stroke="#555" stroke-width="1"/>
<line x1="599.5" y1="457" x2="599.5" y2="462" stroke="#555" stroke-width="1"/>
<line x1="628.5" y1="457" x2="628.5" y2="462" stroke="#555" stroke-width="1"/>
<line x1="657.5" y1="457" x2="657.5" y2="462" stroke="#555" stroke-width="1"/>
<text x="600.9" y="305.6" font-size="12" text-anchor="middle">THP-1 macrophage</text>
<line x1="570" y1="349.5" x2="655" y2="349.5" stroke="#444" stroke-width="1"/>
<text x="612.4" y="346.3" font-size="13" text-anchor="middle">ns</text>
<text x="573.2" y="466.4" font-size="12.8" text-anchor="end" transform="rotate(-64 573.2 466.4)" dominant-baseline="central">NC</text>
<text x="600.8" y="464.8" font-size="12.8" text-anchor="end" transform="rotate(-64 600.8 464.8)" dominant-baseline="central">CYPB-KD1</text>
<text x="630.9" y="466.3" font-size="12.8" text-anchor="end" transform="rotate(-64 630.9 466.3)" dominant-baseline="central">CYPB-KD2</text>
<text x="658" y="466.5" font-size="12.8" text-anchor="end" transform="rotate(-64 658 466.5)" dominant-baseline="central">CYPB</text>
<text x="520.6" y="398.6" font-size="12.8" text-anchor="middle" transform="rotate(-90 520.6 398.6)" textLength="132.9" lengthAdjust="spacingAndGlyphs">CYP1B1-AS1 expression</text>
<text x="96" y="578.7" font-size="12" text-anchor="middle">HeLa</text>
<rect x="16.6" y="584.9" width="156.9" height="22.3" fill="url(#blotH)" stroke="#262626" stroke-width="1.5"/>
<rect x="16.6" y="609.9" width="156.9" height="22.4" fill="#c5c5c5" stroke="#262626" stroke-width="1.5"/>
<g filter="url(#bl07)">
<rect x="21.1" y="596.4" width="15.4" height="5.6" fill="#3a3a3a" rx="2"/>
<rect x="21.6" y="601.5" width="14.4" height="4" fill="#9a9a9a"/>
<rect x="40.1" y="596.4" width="14.5" height="5.6" fill="#3a3a3a" rx="2"/>
<rect x="40.6" y="601.5" width="13.5" height="4" fill="#9a9a9a"/>
<rect x="19.3" y="620.6" width="14.7" height="4" fill="#7a7a7a" rx="1.8"/>
<rect x="37.7" y="620.7" width="14" height="4" fill="#707070" rx="1.8"/>
<rect x="55.7" y="620.9" width="14.3" height="4" fill="#707070" rx="1.8"/>
<rect x="74.5" y="621.6" width="14.8" height="4" fill="#666" rx="1.8"/>
<rect x="93.7" y="623.2" width="15.8" height="4" fill="#555" rx="1.8"/>
<rect x="113.6" y="623.2" width="15.8" height="4" fill="#5a5a5a" rx="1.8"/>
<rect x="133.4" y="624.8" width="16.2" height="4" fill="#444" rx="1.8"/>
<rect x="153.4" y="624.8" width="16.8" height="4" fill="#222" rx="1.8"/>
</g>
<line x1="173.5" y1="584.5" x2="177" y2="584.5" stroke="#222" stroke-width="1"/>
<line x1="173.5" y1="632.5" x2="177" y2="632.5" stroke="#222" stroke-width="1"/>
<text x="181" y="586.2" font-size="11">75kD</text>
<text x="177" y="602.8" font-size="11">CYP1B1</text>
<text x="177.6" y="623.4" font-size="11">β-Actin</text>
<text x="182" y="639.1" font-size="11">37kD</text>
<text x="27.4" y="639.5" font-size="12" text-anchor="end" transform="rotate(-60 27.4 639.5)" dominant-baseline="central">UT</text>
<text x="44.7" y="639.5" font-size="12" text-anchor="end" transform="rotate(-60 44.7 639.5)" dominant-baseline="central">NC</text>
<text x="65.3" y="639.5" font-size="12" text-anchor="end" transform="rotate(-60 65.3 639.5)" dominant-baseline="central">lncCYPB-KD1</text>
<text x="82.7" y="639.5" font-size="12" text-anchor="end" transform="rotate(-60 82.7 639.5)" dominant-baseline="central">lncCYPB-KD2</text>
<text x="101.7" y="639.5" font-size="12" text-anchor="end" transform="rotate(-60 101.7 639.5)" dominant-baseline="central">lncCYPB</text>
<text x="122.2" y="639.5" font-size="12" text-anchor="end" transform="rotate(-60 122.2 639.5)" dominant-baseline="central">CYPB-KD1</text>
<text x="142.7" y="639.5" font-size="12" text-anchor="end" transform="rotate(-60 142.7 639.5)" dominant-baseline="central">CYPB-KD2</text>
<text x="162.5" y="639.5" font-size="12" text-anchor="end" transform="rotate(-60 162.5 639.5)" dominant-baseline="central">CYPB</text>
<text x="567.2" y="584.2" font-size="12" text-anchor="middle">THP-1 macrophage</text>
<rect x="483.6" y="592.6" width="157.4" height="19.6" fill="#c3c3c3" stroke="#262626" stroke-width="1.5"/>
<rect x="483.6" y="615.2" width="157.4" height="20.8" fill="#cbcbcb" stroke="#262626" stroke-width="1.5"/>
<g filter="url(#bl07)">
<rect x="487.6" y="597.5" width="15.8" height="7.5" fill="#8c8c8c" rx="2"/>
<rect x="507.1" y="597.5" width="14.9" height="7.5" fill="#8c8c8c" rx="2"/>
<rect x="487.3" y="621.4" width="15.2" height="4.4" fill="#909090" rx="1.8"/>
<rect x="506" y="621.6" width="14.5" height="4.4" fill="#8e8e8e" rx="1.8"/>
<rect x="525" y="622.2" width="13.5" height="4.4" fill="#959595" rx="1.8"/>
<rect x="543.1" y="624.6" width="15.2" height="4.4" fill="#666" rx="1.8"/>
<rect x="562.8" y="627.1" width="14.1" height="4.4" fill="#6e6e6e" rx="1.8"/>
<rect x="583.4" y="625.8" width="14" height="4.4" fill="#a0a0a0" rx="1.8"/>
<rect x="604.4" y="626.3" width="13.2" height="4.4" fill="#a2a2a2" rx="1.8"/>
<rect x="624.6" y="625.6" width="14" height="4.4" fill="#8e8e8e" rx="1.8"/>
</g>
<circle cx="600" cy="597" r="0.8" fill="#333"/>
<line x1="641" y1="592.5" x2="645.6" y2="592.5" stroke="#222" stroke-width="1"/>
<line x1="641" y1="636.5" x2="645.6" y2="636.5" stroke="#222" stroke-width="1"/>
<text x="648.7" y="593.3" font-size="11">75kD</text>
<text x="643.8" y="609.8" font-size="11">CYP1B1</text>
<text x="643.8" y="629.1" font-size="11">β-Actin</text>
<text x="650" y="643.2" font-size="11">37kD</text>
<text x="495" y="642.7" font-size="12.6" text-anchor="end" transform="rotate(-60.5 495 642.7)" textLength="15.96" lengthAdjust="spacingAndGlyphs" dominant-baseline="central">UT</text>
<text x="510.8" y="642.7" font-size="12.6" text-anchor="end" transform="rotate(-60.5 510.8 642.7)" textLength="17.29" lengthAdjust="spacingAndGlyphs" dominant-baseline="central">NC</text>
<text x="529.6" y="642.7" font-size="12.6" text-anchor="end" transform="rotate(-60.5 529.6 642.7)" textLength="75.17" lengthAdjust="spacingAndGlyphs" dominant-baseline="central">lncCYPB-KD1</text>
<text x="549" y="642.7" font-size="12.6" text-anchor="end" transform="rotate(-60.5 549 642.7)" textLength="75.17" lengthAdjust="spacingAndGlyphs" dominant-baseline="central">lncCYPB-KD2</text>
<text x="568.8" y="642.7" font-size="12.6" text-anchor="end" transform="rotate(-60.5 568.8 642.7)" textLength="47.9" lengthAdjust="spacingAndGlyphs" dominant-baseline="central">lncCYPB</text>
<text x="593" y="642.7" font-size="12.6" text-anchor="end" transform="rotate(-60.5 593 642.7)" textLength="59.87" lengthAdjust="spacingAndGlyphs" dominant-baseline="central">CYPB-KD1</text>
<text x="611.8" y="642.7" font-size="12.6" text-anchor="end" transform="rotate(-60.5 611.8 642.7)" textLength="59.87" lengthAdjust="spacingAndGlyphs" dominant-baseline="central">CYPB-KD2</text>
<text x="632.5" y="642.7" font-size="12.6" text-anchor="end" transform="rotate(-60.5 632.5 642.7)" textLength="32.6" lengthAdjust="spacingAndGlyphs" dominant-baseline="central">CYPB</text>
<rect x="307.1" y="616.76" width="13" height="68.64" fill="#808080"/>
<rect x="326.18" y="624.25" width="13" height="61.15" fill="#ff78aa"/>
<rect x="345.26" y="669.49" width="13" height="15.91" fill="#7dc6c0"/>
<rect x="364.34" y="674.17" width="13" height="11.23" fill="#9c7cc6"/>
<rect x="383.42" y="680.1" width="13" height="5.3" fill="#cfa2ff"/>
<rect x="402.5" y="674.17" width="13" height="11.23" fill="#aee2f8"/>
<rect x="421.58" y="678.54" width="13" height="6.86" fill="#5558aa"/>
<rect x="440.66" y="681.03" width="13" height="4.37" fill="#4e9a4e"/>
<line x1="313.5" y1="599.91" x2="313.5" y2="634.86" stroke="#3a3a3a" stroke-width="0.8"/>
<line x1="310.1" y1="599.5" x2="317.1" y2="599.5" stroke="#3a3a3a" stroke-width="0.8"/>
<line x1="310.1" y1="634.5" x2="317.1" y2="634.5" stroke="#3a3a3a" stroke-width="0.8"/>
<line x1="332.5" y1="615.51" x2="332.5" y2="632.98" stroke="#3a3a3a" stroke-width="0.8"/>
<line x1="329.18" y1="615.5" x2="336.18" y2="615.5" stroke="#3a3a3a" stroke-width="0.8"/>
<line x1="329.18" y1="632.5" x2="336.18" y2="632.5" stroke="#3a3a3a" stroke-width="0.8"/>
<line x1="351.5" y1="667.93" x2="351.5" y2="670.42" stroke="#3a3a3a" stroke-width="0.8"/>
<line x1="348.26" y1="667.5" x2="355.26" y2="667.5" stroke="#3a3a3a" stroke-width="0.8"/>
<line x1="348.26" y1="670.5" x2="355.26" y2="670.5" stroke="#3a3a3a" stroke-width="0.8"/>
<line x1="370.5" y1="667.93" x2="370.5" y2="679.16" stroke="#3a3a3a" stroke-width="0.8"/>
<line x1="367.34" y1="667.5" x2="374.34" y2="667.5" stroke="#3a3a3a" stroke-width="0.8"/>
<line x1="367.34" y1="679.5" x2="374.34" y2="679.5" stroke="#3a3a3a" stroke-width="0.8"/>
<line x1="389.5" y1="675.42" x2="389.5" y2="684.15" stroke="#3a3a3a" stroke-width="0.8"/>
<line x1="386.42" y1="675.5" x2="393.42" y2="675.5" stroke="#3a3a3a" stroke-width="0.8"/>
<line x1="386.42" y1="684.5" x2="393.42" y2="684.5" stroke="#3a3a3a" stroke-width="0.8"/>
<line x1="409.5" y1="670.11" x2="409.5" y2="677.29" stroke="#3a3a3a" stroke-width="0.8"/>
<line x1="405.5" y1="670.5" x2="412.5" y2="670.5" stroke="#3a3a3a" stroke-width="0.8"/>
<line x1="405.5" y1="677.5" x2="412.5" y2="677.5" stroke="#3a3a3a" stroke-width="0.8"/>
<line x1="428.5" y1="676.66" x2="428.5" y2="679.78" stroke="#3a3a3a" stroke-width="0.8"/>
<line x1="424.58" y1="676.5" x2="431.58" y2="676.5" stroke="#3a3a3a" stroke-width="0.8"/>
<line x1="424.58" y1="679.5" x2="431.58" y2="679.5" stroke="#3a3a3a" stroke-width="0.8"/>
<line x1="447.5" y1="679.16" x2="447.5" y2="682.9" stroke="#3a3a3a" stroke-width="0.8"/>
<line x1="443.66" y1="679.5" x2="450.66" y2="679.5" stroke="#3a3a3a" stroke-width="0.8"/>
<line x1="443.66" y1="682.5" x2="450.66" y2="682.5" stroke="#3a3a3a" stroke-width="0.8"/>
<circle cx="313.6" cy="604.28" r="1.6" fill="#111"/>
<circle cx="313.6" cy="610.52" r="1.6" fill="#111"/>
<circle cx="313.6" cy="636.73" r="1.6" fill="#111"/>
<circle cx="332.68" cy="615.51" r="1.6" fill="#ff2a7a"/>
<circle cx="332.68" cy="624.25" r="1.6" fill="#ff2a7a"/>
<circle cx="332.68" cy="632.98" r="1.6" fill="#ff2a7a"/>
<circle cx="350.26" cy="668.55" r="1.6" fill="#10908a"/>
<circle cx="353.26" cy="669.18" r="1.6" fill="#10908a"/>
<circle cx="370.84" cy="667.93" r="1.6" fill="#4a1090"/>
<circle cx="368.84" cy="675.42" r="1.6" fill="#4a1090"/>
<circle cx="372.84" cy="675.42" r="1.6" fill="#4a1090"/>
<circle cx="389.92" cy="675.42" r="1.6" fill="#a070ff"/>
<circle cx="387.92" cy="681.66" r="1.6" fill="#a070ff"/>
<circle cx="391.92" cy="682.9" r="1.6" fill="#a070ff"/>
<circle cx="409" cy="668.55" r="1.6" fill="#50c0f0"/>
<circle cx="407" cy="676.04" r="1.6" fill="#50c0f0"/>
<circle cx="428.08" cy="677.29" r="1.6" fill="#10106a"/>
<circle cx="426.08" cy="679.16" r="1.6" fill="#10106a"/>
<circle cx="430.08" cy="679.16" r="1.6" fill="#10106a"/>
<circle cx="447.16" cy="678.54" r="1.6" fill="#106010"/>
<circle cx="445.16" cy="681.66" r="1.6" fill="#106010"/>
<circle cx="449.16" cy="681.66" r="1.6" fill="#106010"/>
<line x1="300.5" y1="591.8" x2="300.5" y2="685.4" stroke="#555" stroke-width="1"/>
<line x1="298" y1="685.5" x2="300.8" y2="685.5" stroke="#555" stroke-width="1"/>
<text x="291.5" y="687.7" font-size="12.4" text-anchor="end">0</text>
<line x1="298" y1="654.5" x2="300.8" y2="654.5" stroke="#555" stroke-width="1"/>
<text x="291.5" y="658.5" font-size="12.4" text-anchor="end">0.5</text>
<line x1="298" y1="623.5" x2="300.8" y2="623.5" stroke="#555" stroke-width="1"/>
<text x="291.5" y="627.3" font-size="12.4" text-anchor="end">1.0</text>
<line x1="298" y1="591.5" x2="300.8" y2="591.5" stroke="#555" stroke-width="1"/>
<text x="291.5" y="596.1" font-size="12.4" text-anchor="end">1.5</text>
<line x1="300.8" y1="685.5" x2="460.2" y2="685.5" stroke="#555" stroke-width="1"/>
<line x1="313.5" y1="685.4" x2="313.5" y2="688.4" stroke="#555" stroke-width="1"/>
<line x1="332.5" y1="685.4" x2="332.5" y2="688.4" stroke="#555" stroke-width="1"/>
<line x1="351.5" y1="685.4" x2="351.5" y2="688.4" stroke="#555" stroke-width="1"/>
<line x1="370.5" y1="685.4" x2="370.5" y2="688.4" stroke="#555" stroke-width="1"/>
<line x1="389.5" y1="685.4" x2="389.5" y2="688.4" stroke="#555" stroke-width="1"/>
<line x1="409.5" y1="685.4" x2="409.5" y2="688.4" stroke="#555" stroke-width="1"/>
<line x1="428.5" y1="685.4" x2="428.5" y2="688.4" stroke="#555" stroke-width="1"/>
<line x1="447.5" y1="685.4" x2="447.5" y2="688.4" stroke="#555" stroke-width="1"/>
<text x="378.3" y="544.5" font-size="12" text-anchor="middle">HeLa</text>
<polyline points="313.6,571.2 313.6,566.8 447.2,566.8 447.2,571.2" fill="none" stroke="#777" stroke-width="1.2"/>
<polyline points="313.6,585.6 313.6,581.8 389.5,581.8 389.5,585.6" fill="none" stroke="#777" stroke-width="1.2"/>
<polyline points="313.6,597.7 313.6,595 332.7,595 332.7,597.7" fill="none" stroke="#444" stroke-width="1"/>
<text x="364.36" y="567.08" font-size="16.5" letter-spacing="1.2">****</text>
<text x="339.86" y="583.58" font-size="16.5" letter-spacing="1.2">****</text>
<text x="324.5" y="593.3" font-size="13.5" text-anchor="middle">ns</text>
<text x="318.6" y="694.8" font-size="12.5" text-anchor="end" transform="rotate(-64 318.6 694.8)" dominant-baseline="central">UT</text>
<text x="334.48" y="694.8" font-size="12.5" text-anchor="end" transform="rotate(-64 334.48 694.8)" dominant-baseline="central">NC</text>
<text x="351.76" y="694.8" font-size="12.5" text-anchor="end" transform="rotate(-64 351.76 694.8)" dominant-baseline="central">lncCYPB-KD1</text>
<text x="370.24" y="694.8" font-size="12.5" text-anchor="end" transform="rotate(-64 370.24 694.8)" dominant-baseline="central">lncCYPB-KD2</text>
<text x="390.52" y="694.8" font-size="12.5" text-anchor="end" transform="rotate(-64 390.52 694.8)" dominant-baseline="central">lncCYPB</text>
<text x="410.9" y="694.8" font-size="12.5" text-anchor="end" transform="rotate(-64 410.9 694.8)" dominant-baseline="central">CYPB-KD1</text>
<text x="429.28" y="694.8" font-size="12.5" text-anchor="end" transform="rotate(-64 429.28 694.8)" dominant-baseline="central">CYPB-KD2</text>
<text x="450.86" y="694.8" font-size="12.5" text-anchor="end" transform="rotate(-64 450.86 694.8)" dominant-baseline="central">CYPB</text>
<text x="254.5" y="638" font-size="10.8" text-anchor="middle" transform="rotate(-90 254.5 638)" textLength="96.5" lengthAdjust="spacingAndGlyphs">CYP1B1 expression</text>
<text x="268.3" y="642.2" font-size="10.8" text-anchor="middle" transform="rotate(-90 268.3 642.2)" textLength="93.7" lengthAdjust="spacingAndGlyphs">(relative to β-Actin)</text>
<rect x="62.2" y="838.4" width="13.6" height="63" fill="#808080"/>
<rect x="82.85" y="840.92" width="13.6" height="60.48" fill="#ff78aa"/>
<rect x="103.5" y="883.13" width="13.6" height="18.27" fill="#7dc6c0"/>
<rect x="124.15" y="885.02" width="13.6" height="16.38" fill="#9c7cc6"/>
<rect x="144.8" y="891.95" width="13.6" height="9.45" fill="#cfa2ff"/>
<rect x="165.45" y="885.97" width="13.6" height="15.43" fill="#aee2f8"/>
<rect x="186.1" y="887.23" width="13.6" height="14.17" fill="#5558aa"/>
<rect x="206.75" y="892.58" width="13.6" height="8.82" fill="#4e9a4e"/>
<line x1="69.5" y1="819.5" x2="69.5" y2="855.41" stroke="#3a3a3a" stroke-width="0.8"/>
<line x1="65.5" y1="819.5" x2="72.5" y2="819.5" stroke="#3a3a3a" stroke-width="0.8"/>
<line x1="65.5" y1="855.5" x2="72.5" y2="855.5" stroke="#3a3a3a" stroke-width="0.8"/>
<line x1="89.5" y1="831.47" x2="89.5" y2="848.48" stroke="#3a3a3a" stroke-width="0.8"/>
<line x1="86.15" y1="831.5" x2="93.15" y2="831.5" stroke="#3a3a3a" stroke-width="0.8"/>
<line x1="86.15" y1="848.5" x2="93.15" y2="848.5" stroke="#3a3a3a" stroke-width="0.8"/>
<line x1="110.5" y1="878.09" x2="110.5" y2="886.28" stroke="#3a3a3a" stroke-width="0.8"/>
<line x1="106.8" y1="878.5" x2="113.8" y2="878.5" stroke="#3a3a3a" stroke-width="0.8"/>
<line x1="106.8" y1="886.5" x2="113.8" y2="886.5" stroke="#3a3a3a" stroke-width="0.8"/>
<line x1="130.5" y1="881.24" x2="130.5" y2="888.8" stroke="#3a3a3a" stroke-width="0.8"/>
<line x1="127.45" y1="881.5" x2="134.45" y2="881.5" stroke="#3a3a3a" stroke-width="0.8"/>
<line x1="127.45" y1="888.5" x2="134.45" y2="888.5" stroke="#3a3a3a" stroke-width="0.8"/>
<line x1="151.5" y1="887.54" x2="151.5" y2="893.84" stroke="#3a3a3a" stroke-width="0.8"/>
<line x1="148.1" y1="887.5" x2="155.1" y2="887.5" stroke="#3a3a3a" stroke-width="0.8"/>
<line x1="148.1" y1="893.5" x2="155.1" y2="893.5" stroke="#3a3a3a" stroke-width="0.8"/>
<line x1="172.5" y1="885.02" x2="172.5" y2="886.28" stroke="#3a3a3a" stroke-width="0.8"/>
<line x1="168.75" y1="885.5" x2="175.75" y2="885.5" stroke="#3a3a3a" stroke-width="0.8"/>
<line x1="168.75" y1="886.5" x2="175.75" y2="886.5" stroke="#3a3a3a" stroke-width="0.8"/>
<line x1="192.5" y1="886.28" x2="192.5" y2="887.54" stroke="#3a3a3a" stroke-width="0.8"/>
<line x1="189.4" y1="886.5" x2="196.4" y2="886.5" stroke="#3a3a3a" stroke-width="0.8"/>
<line x1="189.4" y1="887.5" x2="196.4" y2="887.5" stroke="#3a3a3a" stroke-width="0.8"/>
<line x1="213.5" y1="887.54" x2="213.5" y2="893.21" stroke="#3a3a3a" stroke-width="0.8"/>
<line x1="210.05" y1="887.5" x2="217.05" y2="887.5" stroke="#3a3a3a" stroke-width="0.8"/>
<line x1="210.05" y1="893.5" x2="217.05" y2="893.5" stroke="#3a3a3a" stroke-width="0.8"/>
<circle cx="69" cy="816.35" r="1.6" fill="#111"/>
<circle cx="69" cy="844.7" r="1.6" fill="#111"/>
<circle cx="69" cy="851" r="1.6" fill="#111"/>
<circle cx="89.65" cy="830.84" r="1.6" fill="#ff2a7a"/>
<circle cx="86.65" cy="842.81" r="1.6" fill="#ff2a7a"/>
<circle cx="92.65" cy="842.81" r="1.6" fill="#ff2a7a"/>
<circle cx="110.3" cy="878.09" r="1.6" fill="#10908a"/>
<circle cx="107.8" cy="886.28" r="1.6" fill="#10908a"/>
<circle cx="112.8" cy="886.28" r="1.6" fill="#10908a"/>
<circle cx="130.95" cy="881.24" r="1.6" fill="#4a1090"/>
<circle cx="128.45" cy="888.17" r="1.6" fill="#4a1090"/>
<circle cx="133.45" cy="888.17" r="1.6" fill="#4a1090"/>
<circle cx="149.6" cy="886.28" r="1.6" fill="#a070ff"/>
<circle cx="153.6" cy="888.8" r="1.6" fill="#a070ff"/>
<circle cx="151.6" cy="892.58" r="1.6" fill="#a070ff"/>
<circle cx="169.25" cy="885.65" r="1.6" fill="#50c0f0"/>
<circle cx="172.25" cy="885.02" r="1.6" fill="#50c0f0"/>
<circle cx="175.25" cy="885.65" r="1.6" fill="#50c0f0"/>
<circle cx="189.9" cy="886.91" r="1.6" fill="#10106a"/>
<circle cx="192.9" cy="886.6" r="1.6" fill="#10106a"/>
<circle cx="195.9" cy="886.91" r="1.6" fill="#10106a"/>
<circle cx="213.55" cy="887.54" r="1.6" fill="#106010"/>
<circle cx="211.05" cy="891.95" r="1.6" fill="#106010"/>
<circle cx="216.05" cy="891.95" r="1.6" fill="#106010"/>
<line x1="55.5" y1="806.9" x2="55.5" y2="901.4" stroke="#555" stroke-width="1"/>
<line x1="51" y1="901.5" x2="55" y2="901.5" stroke="#555" stroke-width="1"/>
<text x="50.3" y="900.95" font-size="12.4" text-anchor="end">0</text>
<line x1="51" y1="869.5" x2="55" y2="869.5" stroke="#555" stroke-width="1"/>
<text x="50.3" y="871.35" font-size="12.4" text-anchor="end">0.5</text>
<line x1="51" y1="838.5" x2="55" y2="838.5" stroke="#555" stroke-width="1"/>
<text x="50.3" y="840.55" font-size="12.4" text-anchor="end">1.0</text>
<line x1="51" y1="806.5" x2="55" y2="806.5" stroke="#555" stroke-width="1"/>
<text x="50.3" y="812.55" font-size="12.4" text-anchor="end">1.5</text>
<line x1="55" y1="901.5" x2="227.6" y2="901.5" stroke="#555" stroke-width="1"/>
<line x1="69.5" y1="901.4" x2="69.5" y2="905.4" stroke="#555" stroke-width="1"/>
<line x1="89.5" y1="901.4" x2="89.5" y2="905.4" stroke="#555" stroke-width="1"/>
<line x1="110.5" y1="901.4" x2="110.5" y2="905.4" stroke="#555" stroke-width="1"/>
<line x1="130.5" y1="901.4" x2="130.5" y2="905.4" stroke="#555" stroke-width="1"/>
<line x1="151.5" y1="901.4" x2="151.5" y2="905.4" stroke="#555" stroke-width="1"/>
<line x1="172.5" y1="901.4" x2="172.5" y2="905.4" stroke="#555" stroke-width="1"/>
<line x1="192.5" y1="901.4" x2="192.5" y2="905.4" stroke="#555" stroke-width="1"/>
<line x1="213.5" y1="901.4" x2="213.5" y2="905.4" stroke="#555" stroke-width="1"/>
<text x="139" y="756" font-size="12" text-anchor="middle">THP-1 macrophage</text>
<polyline points="69,782.4 69,780.4 213.6,780.4 213.6,782.4" fill="none" stroke="#777" stroke-width="1.2"/>
<polyline points="69,799 69,797 151.6,797 151.6,799" fill="none" stroke="#777" stroke-width="1.2"/>
<polyline points="69,814.4 69,812.4 89.6,812.4 89.6,814.4" fill="none" stroke="#444" stroke-width="1"/>
<text x="107.86" y="781.48" font-size="16.5" letter-spacing="1.2">****</text>
<circle cx="145.6" cy="774.4" r="0.6" fill="#777"/>
<circle cx="155" cy="774.4" r="0.6" fill="#777"/>
<text x="94.06" y="797.98" font-size="16.5" letter-spacing="1.2">****</text>
<text x="81.1" y="809.2" font-size="16" text-anchor="middle">ns</text>
<text x="75" y="909.4" font-size="13" text-anchor="end" transform="rotate(-60 75 909.4)" textLength="15.6" lengthAdjust="spacingAndGlyphs" dominant-baseline="central">UT</text>
<text x="93.15" y="909.4" font-size="13" text-anchor="end" transform="rotate(-60 93.15 909.4)" textLength="16.9" lengthAdjust="spacingAndGlyphs" dominant-baseline="central">NC</text>
<text x="108.2" y="909.4" font-size="13" text-anchor="end" transform="rotate(-60 108.2 909.4)" textLength="73.47" lengthAdjust="spacingAndGlyphs" dominant-baseline="central">lncCYPB-KD1</text>
<text x="129.55" y="909.4" font-size="13" text-anchor="end" transform="rotate(-60 129.55 909.4)" textLength="73.47" lengthAdjust="spacingAndGlyphs" dominant-baseline="central">lncCYPB-KD2</text>
<text x="148.1" y="909.4" font-size="13" text-anchor="end" transform="rotate(-60 148.1 909.4)" textLength="46.82" lengthAdjust="spacingAndGlyphs" dominant-baseline="central">lncCYPB</text>
<text x="170.25" y="909.4" font-size="13" text-anchor="end" transform="rotate(-60 170.25 909.4)" textLength="58.52" lengthAdjust="spacingAndGlyphs" dominant-baseline="central">CYPB-KD1</text>
<text x="192" y="909.4" font-size="13" text-anchor="end" transform="rotate(-60 192 909.4)" textLength="58.52" lengthAdjust="spacingAndGlyphs" dominant-baseline="central">CYPB-KD2</text>
<text x="212.05" y="909.4" font-size="13" text-anchor="end" transform="rotate(-60 212.05 909.4)" textLength="31.86" lengthAdjust="spacingAndGlyphs" dominant-baseline="central">CYPB</text>
<text x="12.2" y="854" font-size="10.8" text-anchor="middle" transform="rotate(-90 12.2 854)" textLength="94.9" lengthAdjust="spacingAndGlyphs">CYP1B1 expression</text>
<text x="26" y="858" font-size="10.8" text-anchor="middle" transform="rotate(-90 26 858)" textLength="92" lengthAdjust="spacingAndGlyphs">(relative to β-Actin)</text>
<line x1="292.5" y1="817.8" x2="292.5" y2="930" stroke="#555" stroke-width="1"/>
<line x1="288" y1="930.5" x2="292" y2="930.5" stroke="#555" stroke-width="1"/>
<text x="281.6" y="929.4" font-size="12.4" text-anchor="end">0</text>
<line x1="288" y1="892.5" x2="292" y2="892.5" stroke="#555" stroke-width="1"/>
<text x="285.6" y="897" font-size="12.4" text-anchor="end">0.5</text>
<line x1="288" y1="855.5" x2="292" y2="855.5" stroke="#555" stroke-width="1"/>
<text x="285.6" y="859.6" font-size="12.4" text-anchor="end">1.0</text>
<line x1="288" y1="817.5" x2="292" y2="817.5" stroke="#555" stroke-width="1"/>
<text x="285.6" y="822.2" font-size="12.4" text-anchor="end">1.5</text>
<line x1="292" y1="930.5" x2="427.6" y2="930.5" stroke="#555" stroke-width="1"/>
<line x1="292.5" y1="930" x2="292.5" y2="934.5" stroke="#555" stroke-width="1"/>
<text x="292.6" y="947.5" font-size="12.5" text-anchor="middle">0</text>
<line x1="319.5" y1="930" x2="319.5" y2="934.5" stroke="#555" stroke-width="1"/>
<text x="319.6" y="947.5" font-size="12.5" text-anchor="middle">1</text>
<line x1="346.5" y1="930" x2="346.5" y2="934.5" stroke="#555" stroke-width="1"/>
<text x="346.6" y="947.5" font-size="12.5" text-anchor="middle">2</text>
<line x1="373.5" y1="930" x2="373.5" y2="934.5" stroke="#555" stroke-width="1"/>
<text x="373.6" y="947.5" font-size="12.5" text-anchor="middle">3</text>
<line x1="400.5" y1="930" x2="400.5" y2="934.5" stroke="#555" stroke-width="1"/>
<text x="400.6" y="947.5" font-size="12.5" text-anchor="middle">4</text>
<line x1="427.5" y1="930" x2="427.5" y2="934.5" stroke="#555" stroke-width="1"/>
<text x="427.6" y="947.5" font-size="12.5" text-anchor="middle">5</text>
<line x1="319.5" y1="853.7" x2="319.5" y2="859.69" stroke="#ff6060" stroke-width="0.8"/>
<line x1="317.85" y1="853.5" x2="321.35" y2="853.5" stroke="#ff6060" stroke-width="0.8"/>
<line x1="317.85" y1="859.5" x2="321.35" y2="859.5" stroke="#ff6060" stroke-width="0.8"/>
<line x1="346.5" y1="891.1" x2="346.5" y2="894.1" stroke="#ff6060" stroke-width="0.8"/>
<line x1="344.85" y1="891.5" x2="348.35" y2="891.5" stroke="#ff6060" stroke-width="0.8"/>
<line x1="344.85" y1="894.5" x2="348.35" y2="894.5" stroke="#ff6060" stroke-width="0.8"/>
<line x1="373.5" y1="909.06" x2="373.5" y2="912.05" stroke="#ff6060" stroke-width="0.8"/>
<line x1="371.85" y1="909.5" x2="375.35" y2="909.5" stroke="#ff6060" stroke-width="0.8"/>
<line x1="371.85" y1="912.5" x2="375.35" y2="912.5" stroke="#ff6060" stroke-width="0.8"/>
<line x1="400.5" y1="894.84" x2="400.5" y2="918.78" stroke="#ff6060" stroke-width="0.8"/>
<line x1="398.85" y1="894.5" x2="402.35" y2="894.5" stroke="#ff6060" stroke-width="0.8"/>
<line x1="398.85" y1="918.5" x2="402.35" y2="918.5" stroke="#ff6060" stroke-width="0.8"/>
<line x1="427.5" y1="920.28" x2="427.5" y2="926.26" stroke="#ff6060" stroke-width="0.8"/>
<line x1="425.85" y1="920.5" x2="429.35" y2="920.5" stroke="#ff6060" stroke-width="0.8"/>
<line x1="425.85" y1="926.5" x2="429.35" y2="926.5" stroke="#ff6060" stroke-width="0.8"/>
<line x1="319.5" y1="847.72" x2="319.5" y2="861.18" stroke="#5050ff" stroke-width="0.8"/>
<line x1="317.85" y1="847.5" x2="321.35" y2="847.5" stroke="#5050ff" stroke-width="0.8"/>
<line x1="317.85" y1="861.5" x2="321.35" y2="861.5" stroke="#5050ff" stroke-width="0.8"/>
<line x1="346.5" y1="886.62" x2="346.5" y2="891.1" stroke="#5050ff" stroke-width="0.8"/>
<line x1="344.85" y1="886.5" x2="348.35" y2="886.5" stroke="#5050ff" stroke-width="0.8"/>
<line x1="344.85" y1="891.5" x2="348.35" y2="891.5" stroke="#5050ff" stroke-width="0.8"/>
<line x1="373.5" y1="905.32" x2="373.5" y2="908.31" stroke="#5050ff" stroke-width="0.8"/>
<line x1="371.85" y1="905.5" x2="375.35" y2="905.5" stroke="#5050ff" stroke-width="0.8"/>
<line x1="371.85" y1="908.5" x2="375.35" y2="908.5" stroke="#5050ff" stroke-width="0.8"/>
<line x1="400.5" y1="905.32" x2="400.5" y2="908.31" stroke="#5050ff" stroke-width="0.8"/>
<line x1="398.85" y1="905.5" x2="402.35" y2="905.5" stroke="#5050ff" stroke-width="0.8"/>
<line x1="398.85" y1="908.5" x2="402.35" y2="908.5" stroke="#5050ff" stroke-width="0.8"/>
<line x1="427.5" y1="917.28" x2="427.5" y2="920.28" stroke="#5050ff" stroke-width="0.8"/>
<line x1="425.85" y1="917.5" x2="429.35" y2="917.5" stroke="#5050ff" stroke-width="0.8"/>
<line x1="425.85" y1="920.5" x2="429.35" y2="920.5" stroke="#5050ff" stroke-width="0.8"/>
<polyline points="292.6,855.2 319.6,856.7 346.6,892.6 373.6,910.55 400.6,906.81 427.6,923.27" fill="none" stroke="#ff2020" stroke-width="1"/>
<polyline points="292.6,855.2 319.6,854.45 346.6,888.86 373.6,906.81 400.6,906.81 427.6,918.78" fill="none" stroke="#1a1aff" stroke-width="1"/>
<rect x="290.8" y="853.4" width="3.6" height="3.6" fill="#ff2020"/>
<rect x="317.8" y="854.9" width="3.6" height="3.6" fill="#ff2020"/>
<rect x="344.8" y="890.8" width="3.6" height="3.6" fill="#ff2020"/>
<rect x="371.8" y="908.75" width="3.6" height="3.6" fill="#ff2020"/>
<rect x="398.8" y="905.01" width="3.6" height="3.6" fill="#ff2020"/>
<rect x="425.8" y="921.47" width="3.6" height="3.6" fill="#ff2020"/>
<circle cx="292.6" cy="855.2" r="1.9" fill="#1a1aff"/>
<circle cx="319.6" cy="854.45" r="1.9" fill="#1a1aff"/>
<circle cx="346.6" cy="888.86" r="1.9" fill="#1a1aff"/>
<circle cx="373.6" cy="906.81" r="1.9" fill="#1a1aff"/>
<circle cx="400.6" cy="906.81" r="1.9" fill="#1a1aff"/>
<circle cx="427.6" cy="918.78" r="1.9" fill="#1a1aff"/>
<text x="366.2" y="808" font-size="11" text-anchor="middle">CYP1B1</text>
<line x1="356.5" y1="837.5" x2="366.5" y2="837.5" stroke="#1a1aff" stroke-width="1"/>
<circle cx="361.5" cy="837.3" r="2" fill="#1a1aff"/>
<text x="379.5" y="841.7" font-size="12.4">NC</text>
<line x1="356.5" y1="852.5" x2="366.5" y2="852.5" stroke="#ff2020" stroke-width="1"/>
<rect x="359.5" y="850.9" width="4" height="4" fill="#ff2020"/>
<text x="379.5" y="857.3" font-size="12.4">lncCYPB</text>
<polyline points="431.5,913.6 440,913.6 440,923.6 431.5,923.6" fill="none" stroke="#333" stroke-width="1"/>
<text x="444.1" y="922.3" font-size="12.6">ns</text>
<text x="263.3" y="872" font-size="11.6" text-anchor="middle" transform="rotate(-90 263.3 872)" textLength="87.6" lengthAdjust="spacingAndGlyphs">mRNA abundance</text>
<line x1="509.5" y1="819.25" x2="509.5" y2="930.4" stroke="#555" stroke-width="1"/>
<line x1="507" y1="930.5" x2="509" y2="930.5" stroke="#555" stroke-width="1"/>
<text x="502.3" y="931" font-size="12" text-anchor="end">0</text>
<line x1="507" y1="893.5" x2="509" y2="893.5" stroke="#555" stroke-width="1"/>
<text x="504.6" y="894.65" font-size="12" text-anchor="end">0.5</text>
<line x1="507" y1="856.5" x2="509" y2="856.5" stroke="#555" stroke-width="1"/>
<text x="504.6" y="856.7" font-size="12" text-anchor="end">1.0</text>
<line x1="507" y1="819.5" x2="509" y2="819.5" stroke="#555" stroke-width="1"/>
<text x="504.6" y="821.45" font-size="12" text-anchor="end">1.5</text>
<line x1="509" y1="930.5" x2="653.1" y2="930.5" stroke="#555" stroke-width="1"/>
<line x1="509.5" y1="930.4" x2="509.5" y2="934.9" stroke="#555" stroke-width="1"/>
<text x="509.4" y="947.9" font-size="12.5" text-anchor="middle">0</text>
<line x1="538.5" y1="930.4" x2="538.5" y2="934.9" stroke="#555" stroke-width="1"/>
<text x="538.14" y="947.9" font-size="12.5" text-anchor="middle">1</text>
<line x1="566.5" y1="930.4" x2="566.5" y2="934.9" stroke="#555" stroke-width="1"/>
<text x="566.88" y="947.9" font-size="12.5" text-anchor="middle">2</text>
<line x1="595.5" y1="930.4" x2="595.5" y2="934.9" stroke="#555" stroke-width="1"/>
<text x="595.62" y="947.9" font-size="12.5" text-anchor="middle">3</text>
<line x1="624.5" y1="930.4" x2="624.5" y2="934.9" stroke="#555" stroke-width="1"/>
<text x="624.36" y="947.9" font-size="12.5" text-anchor="middle">4</text>
<line x1="653.5" y1="930.4" x2="653.5" y2="934.9" stroke="#555" stroke-width="1"/>
<text x="653.1" y="947.9" font-size="12.5" text-anchor="middle">5</text>
<line x1="538.5" y1="841.48" x2="538.5" y2="868.16" stroke="#ff6060" stroke-width="0.8"/>
<line x1="536.39" y1="841.5" x2="539.89" y2="841.5" stroke="#ff6060" stroke-width="0.8"/>
<line x1="536.39" y1="868.5" x2="539.89" y2="868.5" stroke="#ff6060" stroke-width="0.8"/>
<line x1="566.5" y1="874.82" x2="566.5" y2="877.79" stroke="#ff6060" stroke-width="0.8"/>
<line x1="565.13" y1="874.5" x2="568.63" y2="874.5" stroke="#ff6060" stroke-width="0.8"/>
<line x1="565.13" y1="877.5" x2="568.63" y2="877.5" stroke="#ff6060" stroke-width="0.8"/>
<line x1="595.5" y1="891.87" x2="595.5" y2="894.83" stroke="#ff6060" stroke-width="0.8"/>
<line x1="593.87" y1="891.5" x2="597.37" y2="891.5" stroke="#ff6060" stroke-width="0.8"/>
<line x1="593.87" y1="894.5" x2="597.37" y2="894.5" stroke="#ff6060" stroke-width="0.8"/>
<line x1="624.5" y1="928.18" x2="624.5" y2="929.66" stroke="#ff6060" stroke-width="0.8"/>
<line x1="622.61" y1="928.5" x2="626.11" y2="928.5" stroke="#ff6060" stroke-width="0.8"/>
<line x1="622.61" y1="929.5" x2="626.11" y2="929.5" stroke="#ff6060" stroke-width="0.8"/>
<line x1="653.5" y1="922.25" x2="653.5" y2="931.14" stroke="#ff6060" stroke-width="0.8"/>
<line x1="651.35" y1="922.5" x2="654.85" y2="922.5" stroke="#ff6060" stroke-width="0.8"/>
<line x1="651.35" y1="931.5" x2="654.85" y2="931.5" stroke="#ff6060" stroke-width="0.8"/>
<line x1="538.5" y1="848.89" x2="538.5" y2="862.23" stroke="#5050ff" stroke-width="0.8"/>
<line x1="536.39" y1="848.5" x2="539.89" y2="848.5" stroke="#5050ff" stroke-width="0.8"/>
<line x1="536.39" y1="862.5" x2="539.89" y2="862.5" stroke="#5050ff" stroke-width="0.8"/>
<line x1="566.5" y1="869.64" x2="566.5" y2="872.6" stroke="#5050ff" stroke-width="0.8"/>
<line x1="565.13" y1="869.5" x2="568.63" y2="869.5" stroke="#5050ff" stroke-width="0.8"/>
<line x1="565.13" y1="872.5" x2="568.63" y2="872.5" stroke="#5050ff" stroke-width="0.8"/>
<line x1="595.5" y1="888.16" x2="595.5" y2="889.64" stroke="#5050ff" stroke-width="0.8"/>
<line x1="593.87" y1="888.5" x2="597.37" y2="888.5" stroke="#5050ff" stroke-width="0.8"/>
<line x1="593.87" y1="889.5" x2="597.37" y2="889.5" stroke="#5050ff" stroke-width="0.8"/>
<line x1="624.5" y1="929.66" x2="624.5" y2="931.14" stroke="#5050ff" stroke-width="0.8"/>
<line x1="622.61" y1="929.5" x2="626.11" y2="929.5" stroke="#5050ff" stroke-width="0.8"/>
<line x1="622.61" y1="931.5" x2="626.11" y2="931.5" stroke="#5050ff" stroke-width="0.8"/>
<line x1="653.5" y1="929.66" x2="653.5" y2="931.14" stroke="#5050ff" stroke-width="0.8"/>
<line x1="651.35" y1="929.5" x2="654.85" y2="929.5" stroke="#5050ff" stroke-width="0.8"/>
<line x1="651.35" y1="931.5" x2="654.85" y2="931.5" stroke="#5050ff" stroke-width="0.8"/>
<polyline points="509.4,856.3 538.14,854.82 566.88,876.31 595.62,893.35 624.36,928.92 653.1,926.69" fill="none" stroke="#ff2020" stroke-width="1"/>
<polyline points="509.4,856.3 538.14,855.56 566.88,871.12 595.62,888.9 624.36,930.4 653.1,930.4" fill="none" stroke="#1a1aff" stroke-width="1"/>
<rect x="507.6" y="854.5" width="3.6" height="3.6" fill="#ff2020"/>
<rect x="536.34" y="853.02" width="3.6" height="3.6" fill="#ff2020"/>
<rect x="565.08" y="874.51" width="3.6" height="3.6" fill="#ff2020"/>
<rect x="593.82" y="891.55" width="3.6" height="3.6" fill="#ff2020"/>
<rect x="622.56" y="927.12" width="3.6" height="3.6" fill="#ff2020"/>
<rect x="651.3" y="924.89" width="3.6" height="3.6" fill="#ff2020"/>
<circle cx="509.4" cy="856.3" r="1.9" fill="#1a1aff"/>
<circle cx="538.14" cy="855.56" r="1.9" fill="#1a1aff"/>
<circle cx="566.88" cy="871.12" r="1.9" fill="#1a1aff"/>
<circle cx="595.62" cy="888.9" r="1.9" fill="#1a1aff"/>
<circle cx="624.36" cy="930.4" r="1.9" fill="#1a1aff"/>
<circle cx="653.1" cy="930.4" r="1.9" fill="#1a1aff"/>
<text x="587" y="810.5" font-size="11" text-anchor="middle">HPRT</text>
<line x1="576" y1="838.5" x2="586" y2="838.5" stroke="#1a1aff" stroke-width="1"/>
<circle cx="581" cy="838.4" r="2" fill="#1a1aff"/>
<text x="599" y="842.8" font-size="12.4">NC</text>
<line x1="576" y1="854.5" x2="586" y2="854.5" stroke="#ff2020" stroke-width="1"/>
<rect x="579" y="852" width="4" height="4" fill="#ff2020"/>
<text x="599" y="858.4" font-size="12.4">lncCYPB</text>
<polyline points="658.5,918.3 667,918.3 667,928.3 658.5,928.3" fill="none" stroke="#333" stroke-width="1"/>
<text x="671.1" y="927" font-size="12.6">ns</text>
<text x="478.8" y="871.7" font-size="11.6" text-anchor="middle" transform="rotate(-90 478.8 871.7)" textLength="88.7" lengthAdjust="spacingAndGlyphs">mRNA abundance</text>
<text x="351.8" y="972.3" font-size="13.4" textLength="242" lengthAdjust="spacingAndGlyphs">Time after actinomycin D treatment (in h)</text>
</svg>
</body></html>
